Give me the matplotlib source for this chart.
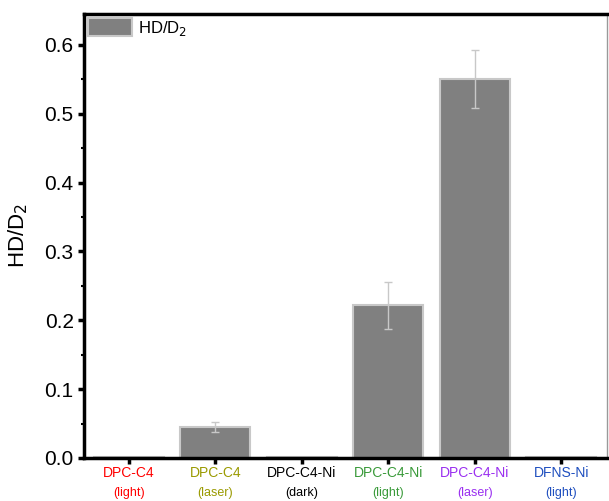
import matplotlib
matplotlib.use('Agg')
import matplotlib.pyplot as plt
import matplotlib.transforms as mtransforms
from matplotlib.ticker import MultipleLocator

plt.rcParams['font.family'] = ['Liberation Sans', 'DejaVu Sans']

##### data #####
samples = ['DPC-C4', 'DPC-C4', 'DPC-C4-Ni', 'DPC-C4-Ni', 'DPC-C4-Ni', 'DFNS-Ni']
conditions = ['(light)', '(laser)', '(dark)', '(light)', '(laser)', '(light)']
label_colors = ['#ff0000', '#9a9a00', '#000000', '#3a9a3a', '#9a2ff0', '#1f4fbf']
hd_d2 = [0.002, 0.045, 0.002, 0.222, 0.551, 0.002]
hd_d2_err = [0.0, 0.007, 0.0, 0.034, 0.042, 0.0]

x = list(range(1, len(samples) + 1))

fig = plt.figure(figsize=(6.09, 5.01), dpi=100)
ax = fig.add_axes([0.138, 0.086, 0.859, 0.886])

ax.bar(x, hd_d2, width=0.81, color='#808080', edgecolor='#c8c8c8',
       linewidth=1.5, label='HD/D$_2$', zorder=2)
# only draw error bars where there is a spread
ex = [xi for xi, e in zip(x, hd_d2_err) if e > 0]
ey = [v for v, e in zip(hd_d2, hd_d2_err) if e > 0]
ee = [e for e in hd_d2_err if e > 0]
ax.errorbar(ex, ey, yerr=ee, fmt='none', ecolor='#c8c8c8',
            elinewidth=1, capsize=3, capthick=1, zorder=3)

ax.set_xlim(0.48, 6.53)
ax.set_ylim(0, 0.645)
ax.yaxis.set_major_locator(MultipleLocator(0.1))
ax.yaxis.set_minor_locator(MultipleLocator(0.05))
ax.set_yticklabels(['%.1f' % v for v in ax.get_yticks()])
ax.set_xticks(x)
ax.set_xticklabels([])

ax.tick_params(axis='both', which='major', direction='out', length=4, width=2.5, labelsize=15)
ax.tick_params(axis='y', which='minor', direction='out', length=2, width=1.5)

for s in ['left', 'bottom', 'top']:
    ax.spines[s].set_linewidth(2.5)
ax.spines['right'].set_linewidth(1)
ax.spines['right'].set_color('#999999')

ax.set_ylabel('HD/D$_2$', fontsize=16, labelpad=10)

### two-line coloured category labels
trans = mtransforms.blended_transform_factory(ax.transData, ax.transAxes)
for xi, name, cond, col in zip(x, samples, conditions, label_colors):
    ax.text(xi, -0.034, name, transform=trans, color=col, fontsize=10,
            ha='center', va='center')
    ax.text(xi, -0.080, cond, transform=trans, color=col, fontsize=9,
            ha='center', va='center')

ax.legend(loc='upper left', frameon=False, fontsize=12, handlelength=2.6,
          handleheight=1.3, borderaxespad=0.15, borderpad=0.1, handletextpad=0.4)

fig.savefig('out.png', dpi=100)
